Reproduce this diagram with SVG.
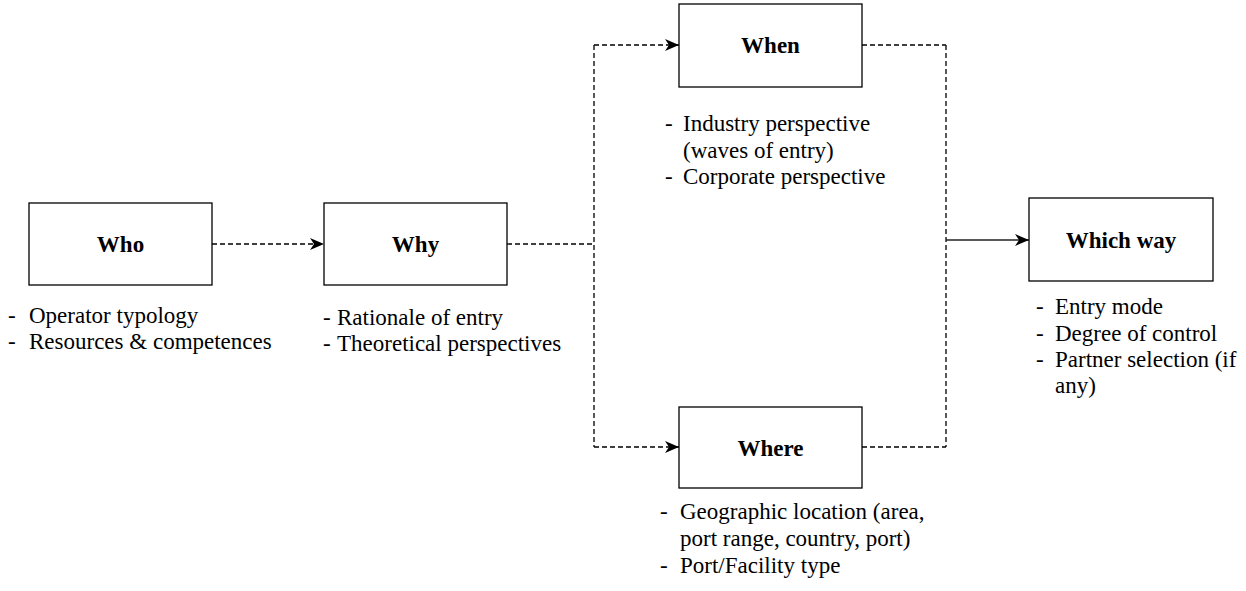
<svg xmlns="http://www.w3.org/2000/svg" width="1246" height="591" viewBox="0 0 1246 591">
<defs>
<style>
.box{fill:#fff;stroke:#000;stroke-width:1.3}
.title{font-family:"Liberation Serif",serif;font-weight:bold;font-size:23px;text-anchor:middle;fill:#000}
.item{font-family:"Liberation Serif",serif;font-size:23px;fill:#000}
.dash{fill:none;stroke:#000;stroke-width:1.3;stroke-dasharray:5 3}
.solid{fill:none;stroke:#222;stroke-width:1.3}
</style>
<marker id="arr" viewBox="0 0 14 12" refX="14" refY="6" markerWidth="14" markerHeight="12" markerUnits="userSpaceOnUse" orient="auto">
<path d="M0,0 L14,6 L0,12 L4,6 Z" fill="#000"/>
</marker>
</defs>
<g id="connectors">
<line class="dash" x1="212" y1="244" x2="324" y2="244" marker-end="url(#arr)"/>
<line class="dash" x1="507" y1="244" x2="594" y2="244"/>
<line class="dash" x1="594" y1="45" x2="594" y2="447"/>
<line class="dash" x1="594" y1="45" x2="679" y2="45" marker-end="url(#arr)"/>
<line class="dash" x1="594" y1="447" x2="679" y2="447" marker-end="url(#arr)"/>
<line class="dash" x1="862" y1="45" x2="946" y2="45"/>
<line class="dash" x1="946" y1="45" x2="946" y2="447"/>
<line class="dash" x1="862" y1="447" x2="946" y2="447"/>
<line class="solid" x1="946" y1="240" x2="1029" y2="240" marker-end="url(#arr)"/>
</g>
<g id="who">
<rect class="box" x="29" y="203" width="183" height="82"/>
<text class="title" x="120.5" y="252">Who</text>
<text class="item"><tspan x="8" y="323">-</tspan><tspan x="29" y="323">Operator typology</tspan><tspan x="8" y="349">-</tspan><tspan x="29" y="349">Resources &amp; competences</tspan></text>
</g>
<g id="why">
<rect class="box" x="324" y="203" width="183" height="82"/>
<text class="title" x="415.5" y="252">Why</text>
<text class="item"><tspan x="323" y="325">-</tspan><tspan x="337" y="325">Rationale of entry</tspan><tspan x="323" y="351">-</tspan><tspan x="337" y="351">Theoretical perspectives</tspan></text>
</g>
<g id="when">
<rect class="box" x="679" y="4" width="183" height="83"/>
<text class="title" x="770.5" y="53">When</text>
<text class="item"><tspan x="665" y="131">-</tspan><tspan x="683" y="131">Industry perspective</tspan><tspan x="683" y="157.5">(waves of entry)</tspan><tspan x="665" y="184">-</tspan><tspan x="683" y="184">Corporate perspective</tspan></text>
</g>
<g id="where">
<rect class="box" x="679" y="407" width="183" height="81"/>
<text class="title" x="770.5" y="456">Where</text>
<text class="item"><tspan x="660" y="519">-</tspan><tspan x="680" y="519">Geographic location (area,</tspan><tspan x="680" y="546">port range, country, port)</tspan><tspan x="660" y="573">-</tspan><tspan x="680" y="573">Port/Facility type</tspan></text>
</g>
<g id="whichway">
<rect class="box" x="1029" y="198" width="184" height="83"/>
<text class="title" x="1121" y="248">Which way</text>
<text class="item"><tspan x="1036" y="314">-</tspan><tspan x="1055" y="314">Entry mode</tspan><tspan x="1036" y="340.5">-</tspan><tspan x="1055" y="340.5">Degree of control</tspan><tspan x="1036" y="366.5">-</tspan><tspan x="1055" y="366.5">Partner selection (if</tspan><tspan x="1055" y="392.5">any)</tspan></text>
</g>
</svg>
